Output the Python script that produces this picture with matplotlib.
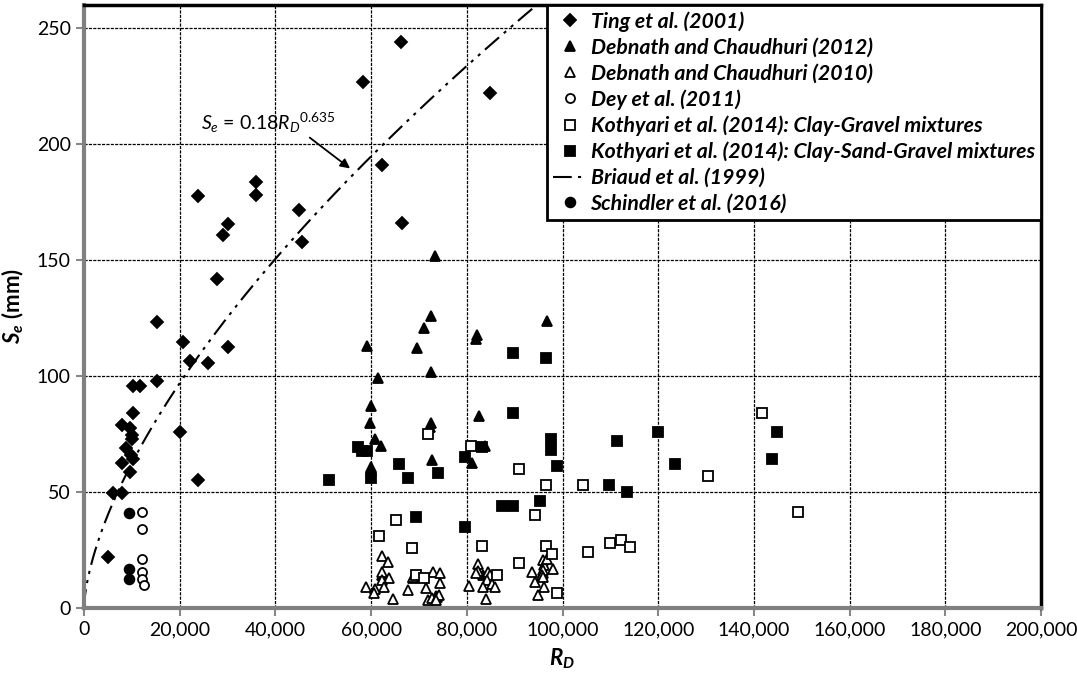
import numpy as np
import matplotlib.pyplot as plt
from matplotlib.ticker import FuncFormatter

plt.rcParams['font.family'] = ['Lato', 'DejaVu Sans']
plt.rcParams['mathtext.fontset'] = 'custom'
plt.rcParams['mathtext.rm'] = 'Lato'
plt.rcParams['mathtext.it'] = 'Lato:italic'
plt.rcParams['mathtext.bf'] = 'Lato:bold'
plt.rcParams['mathtext.bfit'] = 'Lato:italic:bold'

# Ting et al. (2001)
ting_x = [5000, 6100, 7900, 7900, 7900, 8800, 9600, 10000, 10000, 9600, 9900, 10200,
          10300, 10200, 11700, 15200, 15200, 20000, 20700, 22200, 23900, 26000, 30000,
          23900, 27700, 29100, 30000, 36000, 36000, 45000, 45500, 66300, 58300, 84900,
          62300, 66500]
ting_y = [22, 49.5, 49.5, 62.5, 79, 69, 77.5, 74.5, 73, 58.6, 66, 64,
          84, 95.7, 95.7, 98, 123.5, 76, 114.7, 106.5, 55, 105.6, 112.5,
          177.6, 141.8, 160.8, 165.5, 183.6, 178, 171.6, 158, 244, 227, 222,
          191, 166]

# Debnath and Chaudhuri (2012)
deb12_x = [59100, 72500, 71000, 69600, 72500, 61500, 60000, 59800, 60800, 62100, 60000,
           59900, 72500, 72300, 72700, 82100, 82000, 96700, 82600, 83800, 81100, 73400,
           62300, 68800, 83400, 96000, 73600]
deb12_y = [113, 126, 120.7, 112, 101.7, 99, 87, 79.7, 72.8, 69.8, 60.8,
           59, 79.7, 78, 63.8, 117.7, 116, 123.7, 82.8, 69.8, 62.5, 151.7,
           14, 13, 14, 15, 5]

# Debnath and Chaudhuri (2010)
deb10_x = [58900, 62300, 63600, 62300, 63800, 62300, 62600, 60900, 60600, 64600, 67700,
           68800, 72900, 74400, 74400, 71500, 71900, 72700, 73800, 74100, 73600,
           80500, 82400, 82400, 81900, 84400, 84900, 84200, 83400, 85300, 85900, 84000,
           93600, 94300, 96000, 96100, 96000, 95700, 96000, 98000, 96100, 94900, 96800]
deb10_y = [9, 22.4, 19.8, 15.5, 12.9, 12, 9, 8, 6.5, 3.9, 7.8,
           13.3, 15.5, 15, 10.8, 8.6, 3.4, 4.3, 4.7, 5.6, 3.4,
           9.5, 19, 16, 15, 15.5, 14, 12, 9, 10.3, 9, 3.9,
           15.5, 11.2, 20.7, 18.5, 16.4, 14.2, 13.3, 16.8, 9, 5.6, 21]

# Dey et al. (2011)
dey_x = [12100, 12100, 12100, 12100, 12100, 12500]
dey_y = [41.4, 34, 21, 15.5, 12.5, 10]

# Kothyari et al. (2014): Clay-Gravel mixtures
kcg_x = [71900, 80900, 90900, 96500, 94300, 65200, 61700, 68500, 83200, 96500, 97800,
         90900, 69400, 71100, 86300, 98900, 104300, 105400, 110000, 112300, 114000,
         130300, 141600, 149300]
kcg_y = [75, 70, 60, 53, 40, 38, 31, 26, 26.7, 26.7, 23.3,
         19.4, 14.2, 13, 14.2, 6.5, 53, 24, 28, 29.3, 26.3,
         57, 84, 41.3]

# Kothyari et al. (2014): Clay-Sand-Gravel mixtures
ksg_x = [51300, 57300, 58100, 59100, 60000, 65900, 67700, 74000, 69400, 79600, 83200,
         89700, 96500, 89700, 97600, 97600, 98800, 87400, 89700, 95300, 79600,
         111400, 109700, 113500, 120000, 123500, 144800, 143800]
ksg_y = [55, 69.4, 67.7, 67.7, 56, 62, 56, 58, 39, 65, 69.4,
         110, 107.8, 84, 73, 68, 61, 44, 44, 46, 35,
         72, 53, 50, 76, 62, 76, 64]

# Schindler et al. (2016)
sch_x = [9400, 9400, 9400]
sch_y = [40.8, 16.8, 12.5]

# Briaud et al. (1999): Se = 0.18 RD^0.635
briaud_a = 0.18
briaud_b = 0.635

fig = plt.figure(figsize=(10.77, 6.83), dpi=100)
ax = fig.add_axes([0.078, 0.11, 0.8886, 0.8827])

mk = dict(linestyle='none', markeredgecolor='black', markeredgewidth=1.3, zorder=3)
ax.plot(ting_x, ting_y, 'D', color='black', ms=6.5, label='Ting et al. (2001)', **mk)
ax.plot(deb12_x, deb12_y, '^', color='black', ms=7, label='Debnath and Chaudhuri (2012)', **mk)
ax.plot(deb10_x, deb10_y, '^', color='black', markerfacecolor='white', ms=7,
        label='Debnath and Chaudhuri (2010)', **mk)
ax.plot(dey_x, dey_y, 'o', color='black', markerfacecolor='white', ms=6.5,
        label='Dey et al. (2011)', **mk)
ax.plot(kcg_x, kcg_y, 's', color='black', markerfacecolor='white', ms=6.5,
        label='Kothyari et al. (2014): Clay-Gravel mixtures', **mk)
ax.plot(ksg_x, ksg_y, 's', color='black', ms=7,
        label='Kothyari et al. (2014): Clay-Sand-Gravel mixtures', **mk)

rd = np.linspace(0, 100000, 600)
ax.plot(rd, briaud_a * rd ** briaud_b, color='black', lw=1.5,
        linestyle=(0, (9, 3, 1.5, 3, 1.5, 3)), label='Briaud et al. (1999)', zorder=2)
ax.plot(sch_x, sch_y, 'o', color='black', ms=7, label='Schindler et al. (2016)', **mk)

ax.annotate(r'$S_e$ = 0.18$R_D$$^{0.635}$', xy=(55600, 189.5), xytext=(24500, 204),
            fontsize=14, va='bottom',
            arrowprops=dict(arrowstyle='-|>', color='black', lw=1.3, mutation_scale=14,
                            shrinkA=0, shrinkB=0, relpos=(0.78, 0.0)))

ax.set_xlim(0, 200000)
ax.set_ylim(0, 260)
ax.set_xticks(np.arange(0, 200001, 20000))
ax.set_yticks(np.arange(0, 251, 50))
ax.xaxis.set_major_formatter(FuncFormatter(lambda v, p: f'{int(v):,}'))
ax.tick_params(labelsize=14, direction='out', length=6, width=1.5, color='#888888')
ax.grid(True, color='black', linestyle=(0, (2.5, 1)), linewidth=0.9)
ax.set_axisbelow(True)

for side in ('left', 'bottom'):
    ax.spines[side].set_color('#808080')
    ax.spines[side].set_linewidth(3)
for side in ('top', 'right'):
    ax.spines[side].set_color('black')
    ax.spines[side].set_linewidth(2.5)

ax.set_xlabel(r'$\mathbfit{R_D}$', fontsize=16, labelpad=6)
ax.set_ylabel(r'$\mathbfit{S_e}$ (mm)', fontsize=16, fontweight='bold', labelpad=8)

leg = ax.legend(loc='upper right', borderaxespad=0, fancybox=False, framealpha=1,
                edgecolor='black', handlelength=1.55, handletextpad=0.2,
                labelspacing=0.27, borderpad=0.3,
                prop=dict(family='Lato', weight='bold', style='italic', size=15.3))
leg.get_frame().set_linewidth(2)
leg.set_zorder(5)

fig.savefig('out.png', dpi=100)
